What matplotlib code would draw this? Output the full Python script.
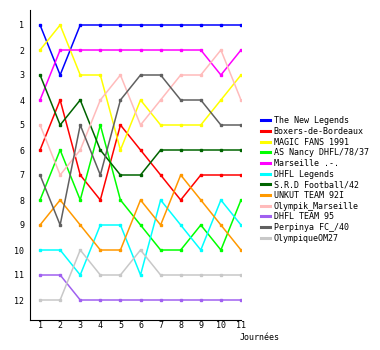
import matplotlib
matplotlib.use("Agg")
import matplotlib.pyplot as plt
from matplotlib.lines import Line2D

journees = list(range(1, 12))

teams = ["The New Legends", "Boxers-de-Bordeaux", "MAGIC FANS 1991",
         "AS Nancy DHFL/78/37", "Marseille .-.", "DHFL Legends",
         "S.R.D Football/42", "UNKUT TEAM 92I", "Olympik_Marseille",
         "DHFL TEAM 95", "Perpinya FC_/40", "OlympiqueOM27"]

new_legends = [1, 3, 1, 1, 1, 1, 1, 1, 1, 1, 1]
boxers      = [6, 4, 7, 8, 5, 6, 7, 8, 7, 7, 7]
magic_fans  = [2, 1, 3, 3, 6, 4, 5, 5, 5, 4, 3]
as_nancy    = [8, 6, 8, 5, 8, 9, 10, 10, 9, 10, 8]
marseille   = [4, 2, 2, 2, 2, 2, 2, 2, 2, 3, 2]
dhfl_leg    = [10, 10, 11, 9, 9, 11, 8, 9, 10, 8, 9]
srd         = [3, 5, 4, 6, 7, 7, 6, 6, 6, 6, 6]
unkut       = [9, 8, 9, 10, 10, 8, 9, 7, 8, 9, 10]
olympik     = [5, 7, 6, 4, 3, 5, 4, 3, 3, 2, 4]
dhfl_95     = [11, 11, 12, 12, 12, 12, 12, 12, 12, 12, 12]
perpinya    = [7, 9, 5, 7, 4, 3, 3, 4, 4, 5, 5]
om27        = [12, 12, 10, 11, 11, 10, 11, 11, 11, 11, 11]

series = [new_legends, boxers, magic_fans, as_nancy, marseille, dhfl_leg,
          srd, unkut, olympik, dhfl_95, perpinya, om27]
colors = ["#0000ff", "#ff0000", "#ffff00", "#00ff00", "#ff00ff", "#00ffff",
          "#006400", "#ff9900", "#ffbbbb", "#a060f0", "#606060", "#c8c8c8"]

plt.rcParams['font.family'] = ['DejaVu Sans Mono']

fig = plt.figure(figsize=(3.8, 3.5), dpi=100)
ax = fig.add_axes([30/380, 30/350, 211/380, 310/350])

for name, vals, c in zip(teams, series, colors):
    ax.plot(journees, vals, color=c, linewidth=1.1, marker='s',
            markersize=2, label=name)

ax.set_xlim(0.5, 11)
ax.set_ylim(12.8, 0.4)
ax.set_xticks(journees)
ax.set_yticks(range(1, 13))
ax.tick_params(axis='x', labelsize=6, length=0, pad=1)
ax.tick_params(axis='y', labelsize=6, length=0, pad=4)
ax.spines['top'].set_visible(False)
ax.spines['right'].set_visible(False)

fig.text(240/380, 1 - 338/350, "Journées", fontsize=6, va='center')

# legend: plain thick lines, no markers
handles = [Line2D([], [], color=c, linewidth=2.2) for c in colors]
fig.legend(handles, teams, loc='upper left',
           bbox_to_anchor=(258/380, 1 - 113/350),
           frameon=False, fontsize=6, handlelength=1.0, handletextpad=0.5,
           labelspacing=0.2, borderaxespad=0)

fig.savefig("out.png", dpi=100)
